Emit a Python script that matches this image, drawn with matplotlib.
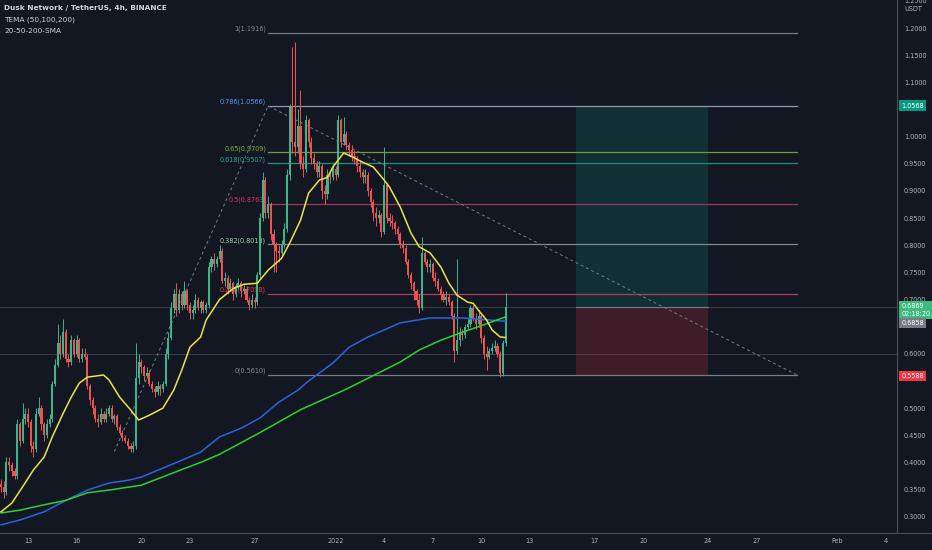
import numpy as np
import pandas as pd
import matplotlib
matplotlib.use("Agg")
import matplotlib.pyplot as plt
import matplotlib.dates as mdates
import matplotlib.transforms as mtransforms

# ==========================================
# DATA  (DUSK/USDT 4h)
# ==========================================
FIRST_OPEN = 0.36
closes = [
    0.355, 0.345, 0.40, 0.395, 0.385, 0.375, 0.47, 0.44, 0.48, 0.49,
    0.475, 0.43, 0.425, 0.49, 0.50, 0.47, 0.45, 0.47, 0.48, 0.545,
    0.58, 0.62, 0.60, 0.64, 0.59, 0.585, 0.625, 0.60, 0.625, 0.59,
    0.60, 0.595, 0.54, 0.515, 0.50, 0.48, 0.475, 0.49, 0.48, 0.49,
    0.50, 0.48, 0.485, 0.465, 0.455, 0.445, 0.44, 0.43, 0.425, 0.43,
    0.555, 0.585, 0.575, 0.56, 0.565, 0.545, 0.535, 0.53, 0.54, 0.535,
    0.545, 0.60, 0.63, 0.685, 0.71, 0.68, 0.71, 0.69, 0.715, 0.69,
    0.675, 0.68, 0.70, 0.685, 0.695, 0.68, 0.69, 0.76, 0.775, 0.765,
    0.775, 0.79, 0.735, 0.74, 0.72, 0.73, 0.71, 0.725, 0.73, 0.715,
    0.72, 0.70, 0.69, 0.70, 0.695, 0.745, 0.85, 0.92, 0.86, 0.875,
    0.82, 0.80, 0.79, 0.785, 0.80, 0.83, 0.93, 1.055, 0.99, 0.98,
    1.02, 0.95, 0.94, 1.03, 0.99, 0.96, 0.95, 0.935, 0.945, 0.90,
    0.895, 0.93, 0.925, 0.94, 0.93, 1.03, 0.99, 1.005, 0.985, 0.975,
    0.965, 0.96, 0.945, 0.935, 0.925, 0.93, 0.90, 0.88, 0.86, 0.85,
    0.855, 0.825, 0.91, 0.85, 0.845, 0.84, 0.83, 0.82, 0.80, 0.795,
    0.77, 0.745, 0.73, 0.715, 0.70, 0.685, 0.785, 0.77, 0.76, 0.765,
    0.74, 0.735, 0.72, 0.71, 0.70, 0.705, 0.695, 0.67, 0.605, 0.625,
    0.64, 0.635, 0.65, 0.655, 0.685, 0.665, 0.655, 0.67, 0.63, 0.60,
    0.595, 0.605, 0.61, 0.615, 0.60, 0.565, 0.62, 0.6869,
]
highs = [
    0.37, 0.365, 0.41, 0.41, 0.40, 0.39, 0.48, 0.475, 0.51, 0.50,
    0.50, 0.48, 0.44, 0.50, 0.52, 0.505, 0.475, 0.48, 0.49, 0.55,
    0.59, 0.655, 0.635, 0.665, 0.645, 0.60, 0.635, 0.63, 0.635, 0.63,
    0.61, 0.61, 0.60, 0.545, 0.52, 0.505, 0.49, 0.50, 0.495, 0.50,
    0.505, 0.505, 0.49, 0.49, 0.47, 0.46, 0.45, 0.445, 0.435, 0.44,
    0.62, 0.60, 0.59, 0.58, 0.575, 0.57, 0.55, 0.54, 0.55, 0.545,
    0.55, 0.61, 0.64, 0.695, 0.72, 0.73, 0.72, 0.715, 0.735, 0.72,
    0.695, 0.69, 0.71, 0.705, 0.70, 0.70, 0.695, 0.77, 0.78, 0.785,
    0.78, 0.80, 0.795, 0.75, 0.745, 0.74, 0.735, 0.73, 0.74, 0.735,
    0.73, 0.725, 0.705, 0.71, 0.705, 0.75, 0.86, 0.935, 0.925, 0.89,
    0.88, 0.83, 0.805, 0.80, 0.81, 0.84, 0.94, 1.06, 1.165, 1.175,
    1.05, 1.085, 0.965, 1.04, 1.035, 1.00, 0.97, 0.955, 0.955, 0.95,
    0.91, 0.94, 0.935, 0.95, 0.945, 1.04, 1.035, 1.036, 1.01, 0.99,
    0.985, 0.975, 0.965, 0.955, 0.94, 0.94, 0.935, 0.905, 0.885, 0.87,
    0.865, 0.86, 0.98, 0.915, 0.86, 0.855, 0.845, 0.835, 0.825, 0.81,
    0.80, 0.775, 0.75, 0.735, 0.72, 0.71, 0.815, 0.79, 0.775, 0.775,
    0.77, 0.75, 0.74, 0.725, 0.715, 0.715, 0.71, 0.70, 0.675, 0.775,
    0.65, 0.645, 0.655, 0.665, 0.69, 0.69, 0.675, 0.68, 0.675, 0.635,
    0.615, 0.61, 0.62, 0.625, 0.62, 0.605, 0.625, 0.712,
]
lows = [
    0.345, 0.335, 0.34, 0.385, 0.375, 0.37, 0.37, 0.43, 0.435, 0.47,
    0.465, 0.42, 0.41, 0.42, 0.485, 0.46, 0.44, 0.445, 0.465, 0.475,
    0.54, 0.575, 0.59, 0.595, 0.585, 0.575, 0.58, 0.595, 0.595, 0.585,
    0.585, 0.59, 0.535, 0.505, 0.49, 0.475, 0.465, 0.47, 0.475, 0.475,
    0.485, 0.475, 0.47, 0.46, 0.45, 0.44, 0.435, 0.425, 0.42, 0.42,
    0.425, 0.545, 0.565, 0.55, 0.555, 0.54, 0.53, 0.52, 0.525, 0.525,
    0.53, 0.54, 0.59, 0.625, 0.675, 0.67, 0.675, 0.68, 0.685, 0.68,
    0.665, 0.665, 0.675, 0.68, 0.675, 0.675, 0.675, 0.685, 0.75, 0.755,
    0.76, 0.77, 0.73, 0.725, 0.71, 0.715, 0.70, 0.705, 0.72, 0.705,
    0.71, 0.695, 0.68, 0.685, 0.685, 0.69, 0.74, 0.845, 0.85, 0.85,
    0.81, 0.75, 0.75, 0.77, 0.78, 0.795, 0.825, 0.92, 0.97, 0.965,
    0.97, 0.94, 0.925, 0.935, 0.98, 0.95, 0.94, 0.925, 0.925, 0.885,
    0.875, 0.885, 0.915, 0.92, 0.92, 0.925, 0.98, 0.985, 0.975, 0.965,
    0.955, 0.95, 0.935, 0.925, 0.915, 0.915, 0.89, 0.87, 0.845, 0.835,
    0.84, 0.815, 0.82, 0.84, 0.835, 0.83, 0.82, 0.81, 0.795, 0.785,
    0.765, 0.74, 0.72, 0.70, 0.69, 0.675, 0.68, 0.765, 0.75, 0.75,
    0.735, 0.725, 0.715, 0.70, 0.695, 0.69, 0.69, 0.665, 0.585, 0.60,
    0.615, 0.625, 0.63, 0.645, 0.65, 0.66, 0.645, 0.65, 0.62, 0.59,
    0.57, 0.59, 0.60, 0.605, 0.595, 0.557, 0.56, 0.615,
]

# moving averages, sampled at candle indices
yellow_idx = [0, 4, 8, 12, 16, 19, 23, 26, 29, 32, 38, 40, 44, 48, 51, 55, 60, 64,
              67, 70, 74, 76, 81, 86, 90, 95, 99, 104, 107, 111, 114, 118, 121, 123,
              127, 130, 134, 138, 142, 144, 148, 152, 155, 159, 163, 166, 169, 173,
              175, 177, 180, 182, 185, 187]
yellow_val = [0.309, 0.325, 0.355, 0.386, 0.41, 0.447, 0.49, 0.52, 0.546, 0.557, 0.561,
              0.552, 0.52, 0.497, 0.478, 0.487, 0.50, 0.533, 0.57, 0.612, 0.631, 0.662,
              0.70, 0.72, 0.728, 0.73, 0.754, 0.776, 0.804, 0.846, 0.896, 0.92, 0.925,
              0.944, 0.97, 0.963, 0.953, 0.944, 0.92, 0.907, 0.87, 0.822, 0.797, 0.786,
              0.76, 0.73, 0.708, 0.695, 0.693, 0.68, 0.662, 0.644, 0.631, 0.63]
blue_idx = [0, 7, 16, 24, 32, 40, 47, 52, 67, 74, 81, 89, 96, 103, 110, 114, 123,
            129, 136, 142, 148, 159, 171, 187]
blue_val = [0.285, 0.294, 0.309, 0.33, 0.349, 0.362, 0.367, 0.373, 0.404, 0.419, 0.447,
            0.463, 0.482, 0.511, 0.533, 0.55, 0.583, 0.612, 0.631, 0.644, 0.657, 0.666,
            0.666, 0.66]
green_idx = [0, 7, 16, 24, 32, 40, 52, 66, 74, 81, 96, 111, 128, 140, 148, 155, 163,
             170, 177, 187]
green_val = [0.307, 0.312, 0.322, 0.33, 0.344, 0.349, 0.358, 0.385, 0.40, 0.415, 0.455,
             0.497, 0.535, 0.565, 0.585, 0.607, 0.625, 0.638, 0.65, 0.668]

# fibonacci retracement levels
fib_prices = [1.1916, 1.0566, 0.9709, 0.9507, 0.8763, 0.8018, 0.7098, 0.5610]
fib_labels = ["1(1.1916)", "0.786(1.0566)", "0.65(0.9709)", "0.618(0.9507)",
              "0.5(0.8763)", "0.382(0.8018)", "0.236(0.7098)", "0(0.5610)"]
fib_line_colors = ["#787b86", "#8e9aa8", "#6f9a3e", "#1f8f86",
                   "#9c3a5c", "#7f8a84", "#b0405a", "#787b86"]
fib_text_colors = ["#8a8d96", "#5b9cf6", "#7cb342", "#26a69a",
                   "#e0306a", "#a5d6a7", "#f23645", "#8a8d96"]
FIB_START, FIB_END = "2021-12-27 20:00", "2022-01-29 12:00"
trend_times = ["2021-12-18 08:00", "2021-12-27 20:00", "2022-01-29 12:00"]
trend_prices = [0.42, 1.0566, 0.561]

# long position tool
POS_START, POS_END = "2022-01-15 20:00", "2022-01-24 00:00"
ENTRY, TARGET, STOP = 0.6858, 1.0568, 0.5588
LAST_PRICE = 0.6869

tick_dates = ["2021-12-13", "2021-12-16", "2021-12-20", "2021-12-23", "2021-12-27",
              "2022-01-01", "2022-01-04", "2022-01-07", "2022-01-10", "2022-01-13",
              "2022-01-17", "2022-01-20", "2022-01-24", "2022-01-27", "2022-02-01",
              "2022-02-04"]
tick_labels = ["13", "16", "20", "23", "27", "2022", "4", "7", "10", "13",
               "17", "20", "24", "27", "Feb", "4"]
price_ticks = [0.30, 0.35, 0.40, 0.45, 0.50, 0.55, 0.60, 0.65, 0.70, 0.75, 0.80,
               0.85, 0.90, 0.95, 1.00, 1.05, 1.10, 1.15, 1.20, 1.25]
hidden_ticks = [0.55, 0.65, 1.05]   # covered by the price tags in the original

# ==========================================
# STYLE
# ==========================================
BG = "#131722"
TXT = "#b2b5be"
UP = "#3bb58c"
DOWN = "#ef5350"
FS = 4.7


def d2n(s):
    return mdates.date2num(pd.Timestamp(s).to_pydatetime())


fig = plt.figure(figsize=(9.32, 5.5), dpi=100, facecolor=BG)
ax = fig.add_axes([0, 17 / 550, 897 / 932, 533 / 550])
ax.set_facecolor(BG)

times = pd.date_range("2021-12-11 08:00", periods=len(closes), freq="4h")
xs = mdates.date2num(times.to_pydatetime())
opens = np.array([FIRST_OPEN] + closes[:-1])
cl = np.array(closes)
cols = np.where(cl >= opens, UP, DOWN)

# full-width faint price lines
for p in (LAST_PRICE, 0.600):
    ax.axhline(p, color="#363a45", lw=0.8, zorder=1)

# position tool
p0, p1 = d2n(POS_START), d2n(POS_END)
ax.fill_between([p0, p1], ENTRY, TARGET, color="#089981", alpha=0.2, lw=0, zorder=1)
ax.fill_between([p0, p1], STOP, ENTRY, color="#f23645", alpha=0.2, lw=0, zorder=1)
ax.plot([p0, p1], [ENTRY, ENTRY], color="#787b86", lw=0.8, zorder=2)

# fib levels
f0, f1 = d2n(FIB_START), d2n(FIB_END)
for price, lab, lc, tc in zip(fib_prices, fib_labels, fib_line_colors, fib_text_colors):
    ax.plot([f0, f1], [price, price], color=lc, lw=0.9, zorder=2)
    ax.annotate(lab, (f0, price), xytext=(-1.5, 0.5), textcoords="offset points",
                ha="right", va="bottom", fontsize=FS, color=tc, zorder=2)
ax.plot([d2n(t) for t in trend_times], trend_prices, color="#787b86",
        lw=0.7, ls=(0, (3, 3)), zorder=2)

# candles
ax.vlines(xs, lows, highs, colors=cols, lw=0.7, zorder=3)
body_h = np.maximum(np.abs(cl - opens), 0.002)
ax.bar(xs, body_h, bottom=np.minimum(cl, opens), width=0.13, color=cols, lw=0, zorder=3)

# moving averages
ax.plot(xs[blue_idx], blue_val, color="#2f62e0", lw=1.1, zorder=4)
ax.plot(xs[green_idx], green_val, color="#2fd12f", lw=1.1, zorder=4)
ax.plot(xs[yellow_idx], yellow_val, color="#ece34b", lw=1.1, zorder=4)

# axes
ax.set_ylim(0.270, 1.2516)
ax.set_xlim(d2n("2021-12-11 06:30"), d2n("2022-02-04 16:20"))
ax.yaxis.tick_right()
ax.set_yticks(price_ticks)
ax.set_yticklabels(["" if t in hidden_ticks else f"{t:.4f}" for t in price_ticks])
ax.set_xticks([d2n(d) for d in tick_dates])
ax.set_xticklabels(tick_labels)
ax.tick_params(axis="both", length=0, colors=TXT, labelsize=FS)
ax.tick_params(axis="y", pad=5)
ax.tick_params(axis="x", pad=3.5)
for side in ("top", "left"):
    ax.spines[side].set_visible(False)
for side in ("right", "bottom"):
    ax.spines[side].set_color("#4a4e59")
    ax.spines[side].set_linewidth(0.8)
fig.add_artist(plt.Line2D([897 / 932, 1], [17 / 550, 17 / 550],
                          transform=fig.transFigure, color="#4a4e59", lw=0.8))

fig.text(913 / 932, 1 - 9 / 550, "USDT", ha="center", va="center", fontsize=FS, color=TXT)

# price labels on the right scale
trans = mtransforms.blended_transform_factory(ax.transAxes, ax.transData)


def price_tag(price, text, color, dy=0, tcolor="white"):
    ax.annotate(text, (1, price), xycoords=trans, xytext=(3, dy), textcoords="offset points",
                ha="left", va="center", fontsize=FS, color=tcolor, linespacing=1.25,
                bbox=dict(boxstyle="square,pad=0.35", fc=color, ec="none"),
                annotation_clip=False, zorder=6)


price_tag(TARGET, "1.0568", "#089981")
price_tag(LAST_PRICE, "0.6869\n02:18:20", "#3dbb7f", dy=-2.5)
price_tag(ENTRY, "0.6858", "#787b86", dy=-11.5)
price_tag(STOP, "0.5588", "#f23645")

# legend text
fig.text(4 / 932, 1 - 8 / 550, "Dusk Network / TetherUS, 4h, BINANCE",
         fontsize=5.3, color="#d1d4dc", fontweight="bold", va="center")
fig.text(4 / 932, 1 - 19.5 / 550, "TEMA (50,100,200)", fontsize=5.3, color="#d1d4dc", va="center")
fig.text(4 / 932, 1 - 31 / 550, "20-50-200-SMA", fontsize=5.3, color="#d1d4dc", va="center")

fig.savefig("out.png", dpi=100, facecolor=BG)
